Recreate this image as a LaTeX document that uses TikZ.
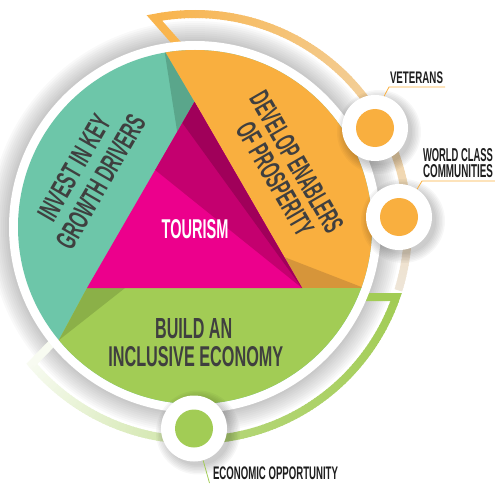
\documentclass[tikz,border=0pt]{standalone}
\usepackage{fontspec}
\setsansfont{Liberation Sans}
\usepackage{graphicx}
\definecolor{teal1}{HTML}{6DC6A9}
\definecolor{teal2}{HTML}{5AA68B}
\definecolor{orng}{HTML}{F9AF3F}
\definecolor{orng2}{HTML}{D6953A}
\definecolor{grn}{HTML}{A2CC55}
\definecolor{grn2}{HTML}{8BB048}
\definecolor{mag1}{HTML}{EC008C}
\definecolor{mag2}{HTML}{C4006F}
\definecolor{mag3}{HTML}{A0005A}
\definecolor{txtg}{HTML}{3F3F3F}
\definecolor{txtb}{HTML}{1E1E1E}
\definecolor{lgray}{HTML}{EDEAE6}
\newcommand{\fitbox}[3]{\resizebox{#1pt}{#2pt}{\sffamily\bfseries #3}}
\begin{document}
\begin{tikzpicture}[x=1pt,y=1pt,
  lbl/.style={inner sep=0pt, text=txtg},
  outl/.style={inner sep=0pt, text=txtb},
  bigdot/.style={circle, fill=white, minimum size=66pt, inner sep=0pt},
  smalldot/.style={circle, minimum size=38pt, inner sep=0pt},
  leadO/.style={draw=orng, line width=0.8pt},
  leadG/.style={draw=grn, line width=0.8pt},
  band/.style={line width=8pt, line join=miter}]
\useasboundingbox (0,0) rectangle (495,483);
\coordinate (C) at (195,256);
% ring shadow
\foreach \r in {186,188,...,206} \fill[black, opacity=0.022] (C) circle (\r);
% orange arc
\draw[band, orng!92!white] (180,436) -- ([shift={(101:213)}]C) arc[start angle=101, end angle=99.7, radius=213];
\foreach \a [evaluate=\a as \p using {92-(101-(\a))*84/118}] in {100,99,...,-16}
  \draw[line width=8pt, orng!\p!lgray] ([shift={(\a:213)}]C) arc[start angle=\a, end angle=\a-1.3, radius=213];
% green arc
\draw[band, grn] (360,186) -- ([shift={(-19.2:213)}]C) arc[start angle=-19.2, end angle=-20.5, radius=213];
\foreach \a [evaluate=\a as \p using {(\a)>(-90) ? 100-(-19-(\a))*20/62 : 45-(-99-(\a))*37/41}] in {-20,-21,...,-139}
  \draw[line width=8pt, grn!\p!white] ([shift={(\a:213)}]C) arc[start angle=\a, end angle=\a-1.3, radius=213];
\draw[band, grn!8!white] ([shift={(-139.5:213)}]C) arc[start angle=-139.5, end angle=-140, radius=213] -- (60,148);
% white ring
\fill[white] (C) circle (186);
% disk
\begin{scope}
\clip (C) circle (177);
\fill[teal1] (0,0) rectangle (420,483);
\fill[orng] (124.5,500) -- (194.5,381) -- (302,195) -- (420,195) -- (420,500) -- cycle;
\fill[teal2] (164.5,432) -- (194.5,381) -- (177.2,351) -- cycle;
\fill[orng2] (284.1,226) -- (302,195) -- (364,195) -- cycle;
\fill[grn] (87,195) -- (420,195) -- (420,0) -- (0,0) -- (0,34) -- cycle;
\fill[grn2] (87,195) -- (125,195) -- (58.9,142.9) -- cycle;
\fill[mag1] (87,195) -- (302,195) -- (194.5,381) -- cycle;
\fill[mag2] (194.5,381) -- (155.2,313) -- (302,195) -- cycle;
\fill[mag3] (194.5,381) -- (182.4,360) -- (302,195) -- cycle;
\end{scope}
% segment labels
\node[lbl, rotate=60] (invA) at (74,315.5) {\fitbox{117}{20}{INVEST IN KEY}};
\node[lbl, rotate=60] (invB) at (100.7,301.3) {\fitbox{150}{20}{GROWTH DRIVERS}};
\node[lbl, rotate=-60] (devA) at (296.7,320.7) {\fitbox{158}{20}{DEVELOP ENABLERS}};
\node[lbl, rotate=-60] (devB) at (275,304) {\fitbox{126}{20}{OF PROSPERITY}};
\node[lbl] (bldA) at (193.7,154.7) {\fitbox{77}{20}{BUILD AN}};
\node[lbl] (bldB) at (195.8,126.3) {\fitbox{175}{20}{INCLUSIVE ECONOMY}};
\node[inner sep=0pt, text=white] (tour) at (195,253.5) {\fitbox{66.7}{19}{TOURISM}};
% small circle shadows
\foreach \r in {33,34.5,...,43} {
  \fill[black, opacity=0.03] (379,351) circle (\r);
  \fill[black, opacity=0.03] (403,262) circle (\r);
  \fill[black, opacity=0.03] (198,50.5) circle (\r);
}
% small circles
\node[bigdot] (vet) at (375,355) {};
\node[smalldot, fill=orng] (vetdot) at (vet) {};
\node[bigdot] (wcc) at (399,266) {};
\node[smalldot, fill=orng] (wccdot) at (wcc) {};
\node[bigdot] (eco) at (194,54.5) {};
\node[smalldot, fill=grn] (ecodot) at (eco) {};
% outer labels
\node[outl] (vetlbl) at (416.5,405.5) {\fitbox{53}{11.7}{VETERANS}};
\node[outl] (wccA) at (458,328) {\fitbox{70}{13}{WORLD CLASS}};
\node[outl] (wccB) at (458,311.5) {\fitbox{70}{13}{COMMUNITIES}};
\node[outl] (ecolbl) at (275.5,9.5) {\fitbox{125}{12.7}{ECONOMIC OPPORTUNITY}};
% leaders
\coordinate (vetA) at (445,396);
\coordinate (vetB) at (389,396);
\draw[leadO] (vetA) -- (vetB) -- (vet.74);
\coordinate (wccC) at (495,302);
\coordinate (wccD) at (422,302);
\draw[leadO] (wccC) -- (wccD) -- (wcc.57);
\coordinate (ecoE) at (209.5,0);
\draw[leadG] (eco.-74) -- (ecoE);
\end{tikzpicture}
\end{document}
